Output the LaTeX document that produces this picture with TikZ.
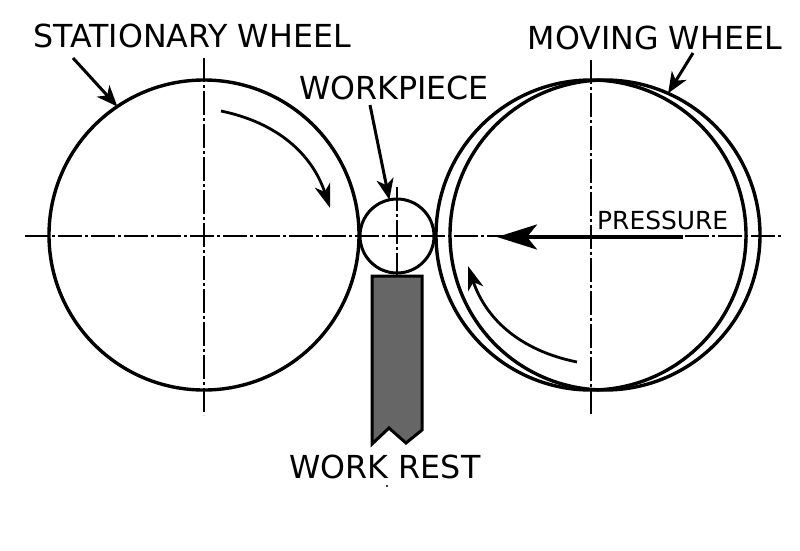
\documentclass[tikz,border=0pt]{standalone}
\usepackage{fontspec}
\usepackage{xcolor}
\usepackage{tikz}
\usetikzlibrary{arrows.meta}
\setmainfont{DejaVu Sans}
\definecolor{restgray}{RGB}{102,102,102}

\begin{document}
\begin{tikzpicture}[
    x=1pt, y=-1pt,
    wheel/.style={circle, draw=black, line width=3.4pt, inner sep=0pt, outer sep=0pt, minimum size=310pt},
    workcircle/.style={circle, draw=black, line width=3pt, inner sep=0pt, outer sep=0pt, minimum size=74pt},
    centerline/.style={line width=2pt, dash pattern=on 24pt off 3pt on 3pt off 3pt},
    label/.style={inner sep=0pt, font=\fontsize{31.7}{32}\selectfont},
    arrow/.style={-{Stealth[length=21pt, width=17pt, inset=6pt]}, line width=3pt},
    turn/.style={-{Stealth[length=24pt, width=16pt, inset=7pt]}, line width=2.8pt}
]
\useasboundingbox (0,0) rectangle (800,550);
\fill[white] (0,0) rectangle (800,550);

\coordinate (hl) at (25,236);   \coordinate (hr) at (781,236);
\coordinate (vat) at (204,58);  \coordinate (vab) at (204,415);
\coordinate (vbt) at (397,187); \coordinate (vbb) at (397,278);
\coordinate (vct) at (591,60);  \coordinate (vcb) at (591,415);

\draw[centerline] (hl) -- (hr);
\draw[centerline] (vat) -- (vab);
\draw[centerline] (vbt) -- (vbb);
\draw[centerline] (vct) -- (vcb);

\node[wheel] (stat) at (204,235) {};
\node[wheel] (mova) at (591,235) {};
\node[wheel] (movb) at (605,235) {};
\node[workcircle] (work) at (397,236) {};

\draw[draw=black, fill=restgray, line width=3pt] (372,276) -- (422,276) -- (422,430)
    -- (406,443) -- (389,428) -- (372,444) -- cycle;

\node[label, anchor=west] (statlabel) at (33,36) {STATIONARY WHEEL};
\node[label, anchor=east] (movlabel) at (782,38) {MOVING WHEEL};
\node[label] (worklabel) at (394,88) {WORKPIECE};
\node[label] (restlabel) at (385,467) {WORK REST};
\node[label, anchor=west, font=\fontsize{24.9}{25}\selectfont] (preslabel) at (597,220) {PRESSURE};

\coordinate (statfrom) at (73,58);
\coordinate (movfrom) at (693,53);
\coordinate (workfrom) at (370,105);
\draw[arrow] (statfrom) -- (stat.124);
\draw[arrow] (movfrom) -- (movb.66);
\draw[arrow] (workfrom) -- (work.102);

\coordinate (presfrom) at (683,237);
\coordinate (presto) at (497,237);
\draw[-{Stealth[length=40pt, width=25pt, inset=10pt]}, line width=4pt] (presfrom) -- (presto);

\coordinate (turnas) at (221,111);
\coordinate (turnae) at (330,208);
\coordinate (turnbs) at (577,362);
\coordinate (turnbe) at (468,266);
\draw[turn] (turnas) to[bend left=30] (turnae);
\draw[turn] (turnbs) to[bend left=30] (turnbe);

\fill (387,486) circle (1.2pt);
\end{tikzpicture}
\end{document}
